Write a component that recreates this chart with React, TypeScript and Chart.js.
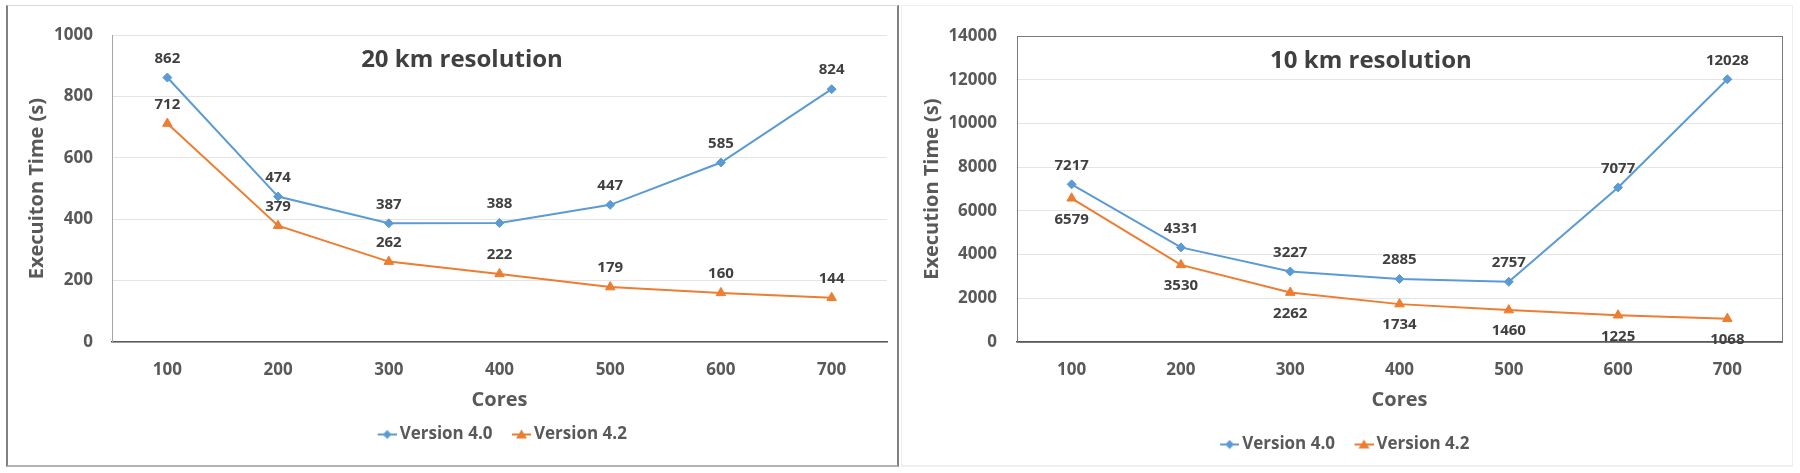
import React, { useEffect, useRef } from 'react';
import { Chart, registerables } from 'chart.js';

Chart.register(...registerables);

// ---------- data ----------
const cores = ['100', '200', '300', '400', '500', '600', '700'];
const seriesNames = ['Version 4.0', 'Version 4.2'];
const v40_20km = [862, 474, 387, 388, 447, 585, 824];
const v42_20km = [712, 379, 262, 222, 179, 160, 144];
const v40_10km = [7217, 4331, 3227, 2885, 2757, 7077, 12028];
const v42_10km = [6579, 3530, 2262, 1734, 1460, 1225, 1068];

const BLUE = '#5B9BD5';
const ORANGE = '#ED7D31';
const FONT = '"Open Sans", "DejaVu Sans", sans-serif';

Chart.defaults.font.family = FONT;

function legendIcon(color: string, shape: 'diamond' | 'triangle') {
  const c = document.createElement('canvas');
  c.width = 30;
  c.height = 14;
  const ctx = c.getContext('2d')!;
  ctx.strokeStyle = color;
  ctx.fillStyle = color;
  ctx.lineWidth = 2;
  ctx.beginPath();
  ctx.moveTo(11, 7);
  ctx.lineTo(30, 7);
  ctx.stroke();
  ctx.beginPath();
  const cx = 20.5;
  if (shape === 'diamond') {
    ctx.moveTo(cx, 2.5);
    ctx.lineTo(cx + 4.5, 7);
    ctx.lineTo(cx, 11.5);
    ctx.lineTo(cx - 4.5, 7);
  } else {
    ctx.moveTo(cx, 2);
    ctx.lineTo(cx + 5.5, 11);
    ctx.lineTo(cx - 5.5, 11);
  }
  ctx.closePath();
  ctx.fill();
  return c;
}

type Place = 'above' | 'below';

interface ChartSpec {
  v40: number[];
  v42: number[];
  yMax: number;
  yStep: number;
  yTitle: string;
  title: string;
  titleX: number;
  places: Place[];
  yWidth: number;
  yTickPad: number;
  yTitlePad: number;
  xHeight: number;
  xTitlePad: number;
  padding: { left: number; right: number; top: number; bottom: number };
  legendPad: number;
  legendOnArea: boolean;
  areaBorder: boolean;
  yBorderColor: string;
}

function makeConfig(s: ChartSpec): any {
  const icons = [legendIcon(BLUE, 'diamond'), legendIcon(ORANGE, 'triangle')];
  const plugins: any[] = [
    {
      id: 'legendPlacement',
      afterLayout(chart: any) {
        const lg = chart.legend;
        if (!lg || !s.legendOnArea) return;
        lg.left = chart.chartArea.left;
        lg.right = chart.chartArea.right;
        lg.width = lg.right - lg.left;
      },
    },
    {
      id: 'areaBorder',
      afterDatasetsDraw(chart: any) {
        if (!s.areaBorder) return;
        const { left, top, right, bottom } = chart.chartArea;
        const ctx = chart.ctx;
        ctx.save();
        ctx.strokeStyle = '#7a7a7a';
        ctx.lineWidth = 1;
        ctx.strokeRect(Math.round(left) + 0.5, Math.round(top) + 0.5, Math.round(right - left), Math.round(bottom - top));
        ctx.restore();
      },
    },
    {
      id: 'valueLabels',
      afterDraw(chart: any) {
        const ctx = chart.ctx;
        ctx.save();
        ctx.font = `bold 15px ${FONT}`;
        ctx.fillStyle = '#404040';
        ctx.textAlign = 'center';
        ctx.textBaseline = 'middle';
        chart.data.datasets.forEach((ds: any, i: number) => {
          const meta = chart.getDatasetMeta(i);
          meta.data.forEach((pt: any, j: number) => {
            const off = s.places[i] === 'above' ? -19 : 21;
            ctx.fillText(String(ds.data[j]), pt.x, pt.y + off);
          });
        });
        // chart title inside plot area
        const { left, right, top } = chart.chartArea;
        ctx.font = `bold 24px ${FONT}`;
        ctx.fillStyle = '#404040';
        ctx.fillText(s.title, left + (right - left) * s.titleX, top + 25);
        ctx.restore();
      },
    },
  ];

  const tickFont = { family: FONT, weight: 'bold' as const, size: 17 };
  const titleFont = { family: FONT, weight: 'bold' as const, size: 20 };

  return {
    type: 'line',
    data: {
      labels: cores,
      datasets: [
        {
          label: seriesNames[0],
          data: s.v40,
          borderColor: BLUE,
          backgroundColor: BLUE,
          borderWidth: 2,
          pointStyle: 'rectRot',
          pointRadius: 4.5,
          pointBorderWidth: 1,
          tension: 0,
        },
        {
          label: seriesNames[1],
          data: s.v42,
          borderColor: ORANGE,
          backgroundColor: ORANGE,
          borderWidth: 2,
          pointStyle: 'triangle',
          pointRadius: 5.5,
          pointBorderWidth: 1,
          tension: 0,
        },
      ],
    },
    options: {
      responsive: false,
      animation: false,
      layout: { padding: s.padding },
      plugins: {
        title: { display: false },
        tooltip: { enabled: false },
        legend: {
          display: true,
          position: 'bottom',
          labels: {
            usePointStyle: true,
            pointStyleWidth: 19,
            padding: s.legendPad,
            color: '#595959',
            font: { family: FONT, weight: 'bold', size: 17 },
            generateLabels(chart: any) {
              const items = Chart.defaults.plugins.legend.labels.generateLabels(chart);
              items.forEach((it: any, i: number) => {
                it.pointStyle = icons[i];
              });
              return items;
            },
          },
        },
      },
      scales: {
        x: {
          offset: true,
          grid: { display: false, drawTicks: false },
          border: { display: true, color: '#595959', width: 1.5 },
          ticks: { padding: 18, color: '#595959', font: tickFont, maxRotation: 0 },
          title: {
            display: true,
            text: 'Cores',
            color: '#595959',
            font: titleFont,
            padding: { top: 0, bottom: s.xTitlePad },
          },
          afterFit(scale: any) {
            scale.height = s.xHeight;
          },
        },
        y: {
          min: 0,
          max: s.yMax,
          grid: { color: '#e4e4e4', drawTicks: false, lineWidth: 1 },
          border: { display: true, color: s.yBorderColor, width: 1 },
          ticks: {
            stepSize: s.yStep,
            padding: s.yTickPad,
            color: '#595959',
            font: tickFont,
            callback: (v: any) => String(v),
          },
          title: {
            display: true,
            text: s.yTitle,
            color: '#595959',
            font: titleFont,
            padding: { top: s.yTitlePad, bottom: 0 },
          },
          afterFit(scale: any) {
            scale.width = s.yWidth;
          },
        },
      },
    },
    plugins,
  };
}

const leftSpec: ChartSpec = {
  v40: v40_20km,
  v42: v42_20km,
  yMax: 1000,
  yStep: 200,
  yTitle: 'Execuiton Time (s)',
  title: '20 km resolution',
  titleX: 0.4516,
  places: ['above', 'above'],
  yWidth: 105,
  yTickPad: 19,
  yTitlePad: 18,
  xHeight: 70,
  xTitlePad: 0,
  padding: { left: 0, right: 11, top: 17, bottom: 13 },
  legendPad: 14,
  legendOnArea: true,
  areaBorder: false,
  yBorderColor: '#a6a6a6',
};

const rightSpec: ChartSpec = {
  v40: v40_10km,
  v42: v42_10km,
  yMax: 14000,
  yStep: 2000,
  yTitle: 'Execution Time (s)',
  title: '10 km resolution',
  titleX: 0.4627,
  places: ['above', 'below'],
  yWidth: 115,
  yTickPad: 20,
  yTitlePad: 18,
  xHeight: 80,
  xTitlePad: 10,
  padding: { left: 0, right: 9, top: 17, bottom: 3 },
  legendPad: 14,
  legendOnArea: false,
  areaBorder: true,
  yBorderColor: '#7a7a7a',
};

function ChartCanvas(props: { spec: ChartSpec; left: number; top: number; width: number; height: number }) {
  const ref = useRef<HTMLCanvasElement | null>(null);
  useEffect(() => {
    const chart = new Chart(ref.current!, makeConfig(props.spec));
    return () => chart.destroy();
  }, []);
  return (
    <canvas
      ref={ref}
      width={props.width}
      height={props.height}
      style={{ position: 'absolute', left: props.left, top: props.top, width: props.width, height: props.height }}
    />
  );
}

export default function App() {
  return (
    <div style={{ position: 'absolute', left: 0, top: 0, width: 1800, height: 473, background: '#ffffff', overflow: 'hidden' }}>
      <div
        style={{
          position: 'absolute',
          left: 6,
          top: 5,
          width: 893,
          height: 462,
          boxSizing: 'border-box',
          borderLeft: '2px solid #808080',
          borderRight: '2px solid #808080',
          borderTop: '1px solid #d9d9d9',
          borderBottom: '2px solid #b3b3b3',
        }}
      />
      <div
        style={{
          position: 'absolute',
          left: 901,
          top: 5,
          width: 892,
          height: 462,
          boxSizing: 'border-box',
          border: '1px solid #eeeeee',
          borderBottom: '2px solid #efefef',
        }}
      />
      <ChartCanvas spec={leftSpec} left={7} top={6} width={891} height={460} />
      <ChartCanvas spec={rightSpec} left={902} top={6} width={889} height={460} />
    </div>
  );
}
